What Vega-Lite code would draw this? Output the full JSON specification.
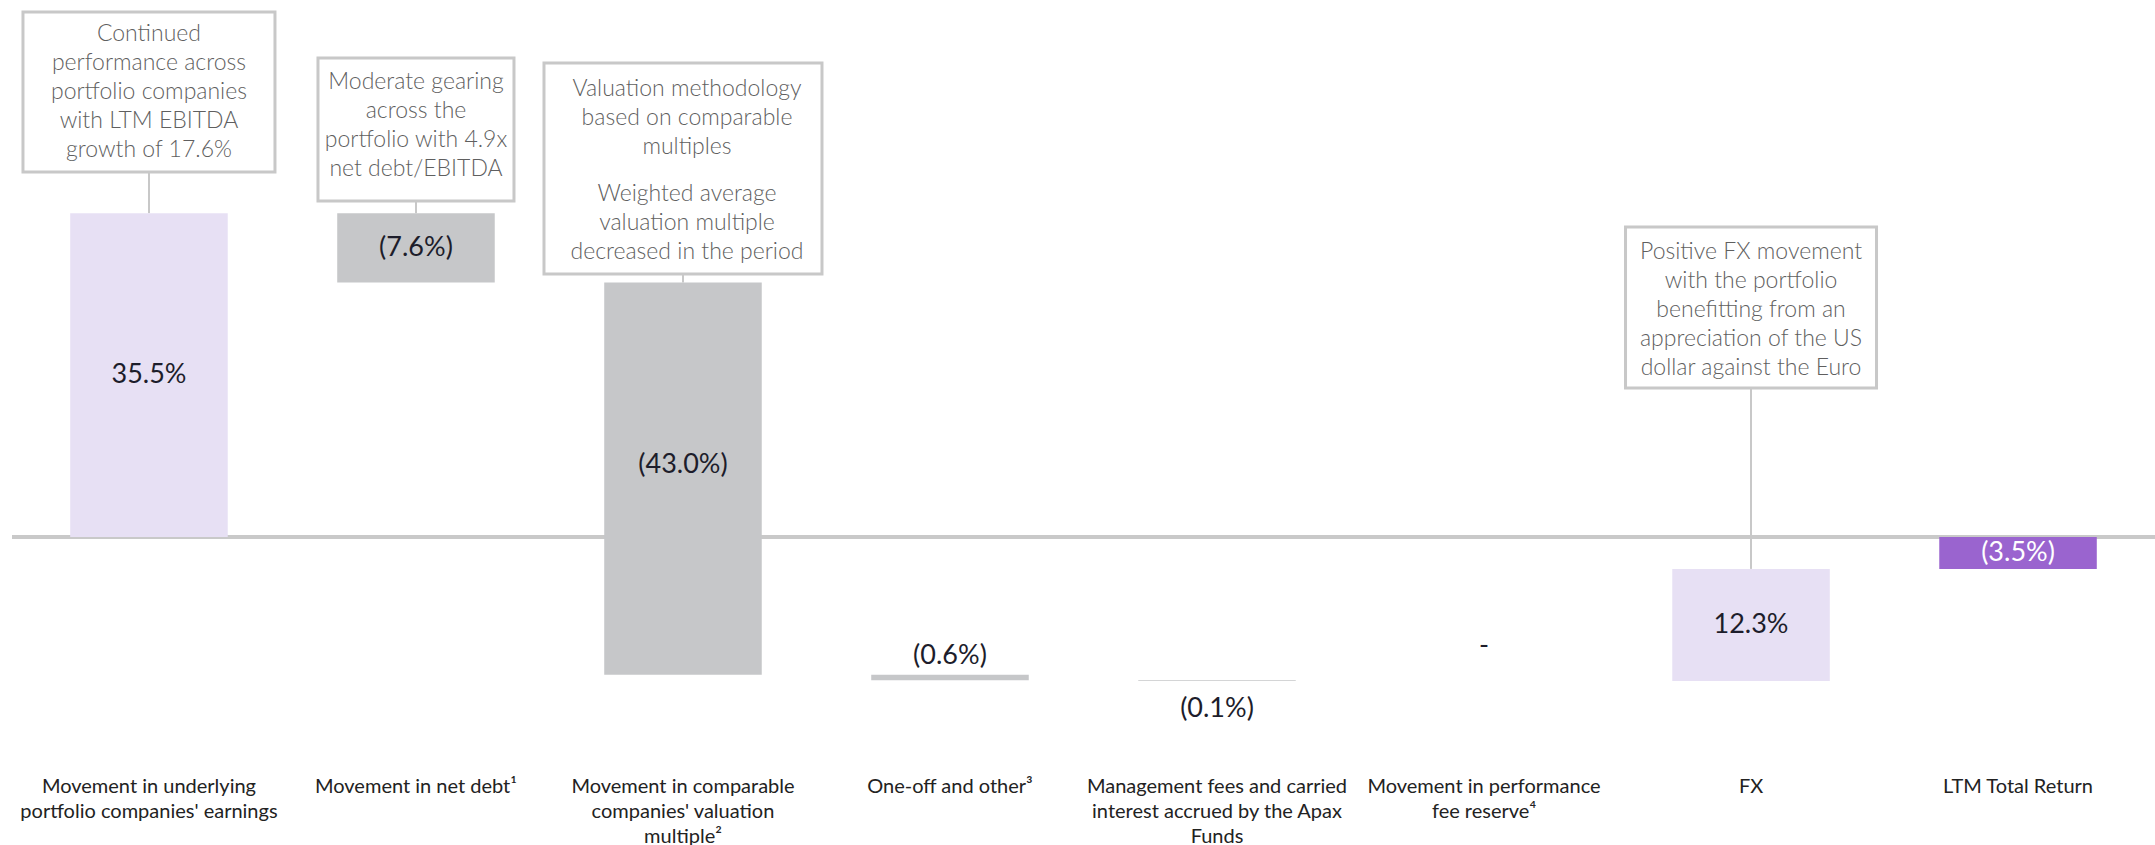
{
  "$schema": "https://vega.github.io/schema/vega-lite/v6.json",
  "width": 2143,
  "height": 770,
  "autosize": {"type": "none"},
  "padding": {"left": 12, "top": 0, "right": 0, "bottom": 75},
  "background": "white",
  "config": {"view": {"stroke": null}, "font": "Lato", "axisY": {"disable": true}},
  "layer": [
    {
      "data": {"values": [{}]},
      "mark": {"type": "rule", "stroke": "#c9c9c9", "strokeWidth": 4},
      "encoding": {"y": {"datum": 0, "axis": null}}
    },
    {
      "data": {"values": [{}]},
      "mark": {"type": "rule", "stroke": "#c8c8c8", "strokeWidth": 2},
      "encoding": {"x": {"datum": "Movement in underlying|portfolio companies' earnings"}, "y": {"datum": 40.02, "axis": null}, "y2": {"datum": 35.5}}
    },
    {
      "data": {"values": [{}]},
      "mark": {"type": "rule", "stroke": "#c8c8c8", "strokeWidth": 2},
      "encoding": {"x": {"datum": "Movement in net debt¹"}, "y": {"datum": 36.84, "axis": null}, "y2": {"datum": 35.5}}
    },
    {
      "data": {"values": [{}]},
      "mark": {"type": "rule", "stroke": "#c8c8c8", "strokeWidth": 2},
      "encoding": {"x": {"datum": "Movement in comparable|companies' valuation|multiple²"}, "y": {"datum": 28.84, "axis": null}, "y2": {"datum": 27.9}}
    },
    {
      "data": {"values": [{}]},
      "mark": {"type": "rule", "stroke": "#c8c8c8", "strokeWidth": 2},
      "encoding": {"x": {"datum": "FX"}, "y": {"datum": 16.34, "axis": null}, "y2": {"datum": -3.5}}
    },
    {
      "data": {
        "values": [
          {"cat": "Movement in underlying|portfolio companies' earnings", "value": 35.5, "kind": "increase", "label": "35.5%"},
          {"cat": "Movement in net debt¹", "value": -7.6, "kind": "decrease", "label": "(7.6%)"},
          {"cat": "Movement in comparable|companies' valuation|multiple²", "value": -43.0, "kind": "decrease", "label": "(43.0%)"},
          {"cat": "One-off and other³", "value": -0.6, "kind": "decrease", "label": "(0.6%)"},
          {"cat": "Management fees and carried|interest accrued by the Apax|Funds", "value": -0.1, "kind": "decrease", "label": "(0.1%)"},
          {"cat": "Movement in performance|fee reserve⁴", "value": 0, "kind": "decrease", "label": "-"},
          {"cat": "FX", "value": 12.3, "kind": "increase", "label": "12.3%"},
          {"cat": "LTM Total Return", "value": -3.5, "kind": "total", "label": "(3.5%)"}
        ]
      },
      "transform": [
        {"calculate": "datum.kind === 'total' ? 0 : datum.value", "as": "delta"},
        {"window": [{"op": "sum", "field": "delta", "as": "cum"}]},
        {"calculate": "datum.kind === 'total' ? 0 : datum.cum - datum.value", "as": "start"},
        {"calculate": "datum.kind === 'total' ? datum.value : datum.cum", "as": "end"},
        {"calculate": "(datum.start + datum.end) / 2", "as": "mid"}
      ],
      "layer": [
        {
          "mark": {"type": "bar"},
          "encoding": {
            "x": {
              "field": "cat", "type": "nominal", "sort": null,
              "scale": {
                "domain": [
                  "Movement in underlying|portfolio companies' earnings",
                  "Movement in net debt¹",
                  "Movement in comparable|companies' valuation|multiple²",
                  "One-off and other³",
                  "Management fees and carried|interest accrued by the Apax|Funds",
                  "Movement in performance|fee reserve⁴",
                  "FX",
                  "LTM Total Return"
                ],
                "paddingInner": 0.41, "paddingOuter": 0.218
              },
              "axis": {
                "title": null, "domain": false, "ticks": false, "tickSize": 0, "labelAngle": 0, "labelAlign": "center",
                "labelExpr": "split(datum.label, '|')", "labelFont": "Lato", "labelFontSize": 20,
                "labelColor": "#222222", "labelLineHeight": 25, "labelPadding": 6, "labelBaseline": "top",
                "labelLimit": 400, "labelOverlap": false, "grid": false
              }
            },
            "y": {"field": "start", "type": "quantitative", "scale": {"domain": [-25.55, 58.88], "nice": false, "zero": false}, "axis": null},
            "y2": {"field": "end"},
            "color": {
              "field": "kind", "type": "nominal", "legend": null,
              "scale": {"domain": ["increase", "decrease", "total"], "range": ["#e7e0f4", "#c6c7c9", "#9a64cf"]}
            }
          }
        },
        {
          "transform": [{"filter": "abs(datum.value) >= 3 && abs(datum.value) < 40"}],
          "mark": {"type": "text", "fontSize": 27, "baseline": "middle", "align": "center"},
          "encoding": {
            "x": {"field": "cat", "type": "nominal"},
            "y": {"field": "mid", "type": "quantitative", "axis": null},
            "text": {"field": "label"},
            "color": {"condition": {"test": "datum.kind === 'total'", "value": "#ffffff"}, "value": "#1d1d2b"}
          }
        },
        {
          "transform": [{"filter": "abs(datum.value) >= 40"}],
          "mark": {"type": "text", "fontSize": 27, "baseline": "middle", "align": "center", "dy": -14, "color": "#1d1d2b"},
          "encoding": {
            "x": {"field": "cat", "type": "nominal"},
            "y": {"field": "mid", "type": "quantitative", "axis": null},
            "text": {"field": "label"}
          }
        },
        {
          "transform": [{"filter": "datum.cat === 'One-off and other³'"}],
          "mark": {"type": "text", "fontSize": 27, "baseline": "middle", "align": "center", "dy": -19, "color": "#1d1d2b"},
          "encoding": {
            "x": {"field": "cat", "type": "nominal"},
            "y": {"field": "start", "type": "quantitative", "axis": null},
            "text": {"field": "label"}
          }
        },
        {
          "transform": [{"filter": "datum.value === -0.1"}],
          "mark": {"type": "text", "fontSize": 27, "baseline": "middle", "align": "center", "dy": 28, "color": "#1d1d2b"},
          "encoding": {
            "x": {"field": "cat", "type": "nominal"},
            "y": {"field": "end", "type": "quantitative", "axis": null},
            "text": {"field": "label"}
          }
        },
        {
          "transform": [{"filter": "datum.value === 0"}],
          "mark": {"type": "text", "fontSize": 27, "baseline": "middle", "align": "center", "dy": -35, "color": "#1d1d2b"},
          "encoding": {
            "x": {"field": "cat", "type": "nominal"},
            "y": {"field": "end", "type": "quantitative", "axis": null},
            "text": {"field": "label"}
          }
        }
      ]
    },
    {
      "data": {"values": [{}]},
      "mark": {"type": "bar", "width": 252, "fill": "#ffffff", "stroke": "#c8c8c8", "strokeWidth": 3},
      "encoding": {"x": {"datum": "Movement in underlying|portfolio companies' earnings"}, "y": {"datum": 57.57, "axis": null}, "y2": {"datum": 40.02}}
    },
    {
      "data": {"values": [{}]},
      "mark": {"type": "bar", "width": 196, "fill": "#ffffff", "stroke": "#c8c8c8", "strokeWidth": 3},
      "encoding": {"x": {"datum": "Movement in net debt¹"}, "y": {"datum": 52.52, "axis": null}, "y2": {"datum": 36.84}}
    },
    {
      "data": {"values": [{}]},
      "mark": {"type": "bar", "width": 278, "fill": "#ffffff", "stroke": "#c8c8c8", "strokeWidth": 3},
      "encoding": {"x": {"datum": "Movement in comparable|companies' valuation|multiple²"}, "y": {"datum": 51.97, "axis": null}, "y2": {"datum": 28.84}}
    },
    {
      "data": {"values": [{}]},
      "mark": {"type": "bar", "width": 251, "fill": "#ffffff", "stroke": "#c8c8c8", "strokeWidth": 3},
      "encoding": {"x": {"datum": "FX"}, "y": {"datum": 33.99, "axis": null}, "y2": {"datum": 16.34}}
    },
    {
      "data": {"values": [{}]},
      "mark": {"type": "text", "fontSize": 23, "fontWeight": 300, "color": "#5f5f5f", "lineHeight": 29, "baseline": "middle", "align": "center",
        "text": ["Continued", "performance  across", "portfolio companies", "with LTM EBITDA", "growth of 17.6%"]},
      "encoding": {"x": {"datum": "Movement in underlying|portfolio companies' earnings"}, "y": {"datum": 55.15, "axis": null}}
    },
    {
      "data": {"values": [{}]},
      "mark": {"type": "text", "fontSize": 23, "fontWeight": 300, "color": "#5f5f5f", "lineHeight": 29, "baseline": "middle", "align": "center",
        "text": ["Moderate gearing", "across the", "portfolio with 4.9x", "net debt/EBITDA"]},
      "encoding": {"x": {"datum": "Movement in net debt¹"}, "y": {"datum": 49.89, "axis": null}}
    },
    {
      "data": {"values": [{}]},
      "mark": {"type": "text", "fontSize": 23, "fontWeight": 300, "color": "#5f5f5f", "lineHeight": 29, "baseline": "middle", "align": "center", "dx": 4,
        "text": ["Valuation methodology", "based on comparable", "multiples"]},
      "encoding": {"x": {"datum": "Movement in comparable|companies' valuation|multiple²"}, "y": {"datum": 49.12, "axis": null}}
    },
    {
      "data": {"values": [{}]},
      "mark": {"type": "text", "fontSize": 23, "fontWeight": 300, "color": "#5f5f5f", "lineHeight": 29, "baseline": "middle", "align": "center", "dx": 4,
        "text": ["Weighted average", "valuation multiple", "decreased in the period"]},
      "encoding": {"x": {"datum": "Movement in comparable|companies' valuation|multiple²"}, "y": {"datum": 37.61, "axis": null}}
    },
    {
      "data": {"values": [{}]},
      "mark": {"type": "text", "fontSize": 23, "fontWeight": 300, "color": "#5f5f5f", "lineHeight": 29, "baseline": "middle", "align": "center",
        "text": ["Positive FX movement", "with the portfolio", "benefitting from an", "appreciation of the US", "dollar against the Euro"]},
      "encoding": {"x": {"datum": "FX"}, "y": {"datum": 31.25, "axis": null}}
    }
  ]
}
